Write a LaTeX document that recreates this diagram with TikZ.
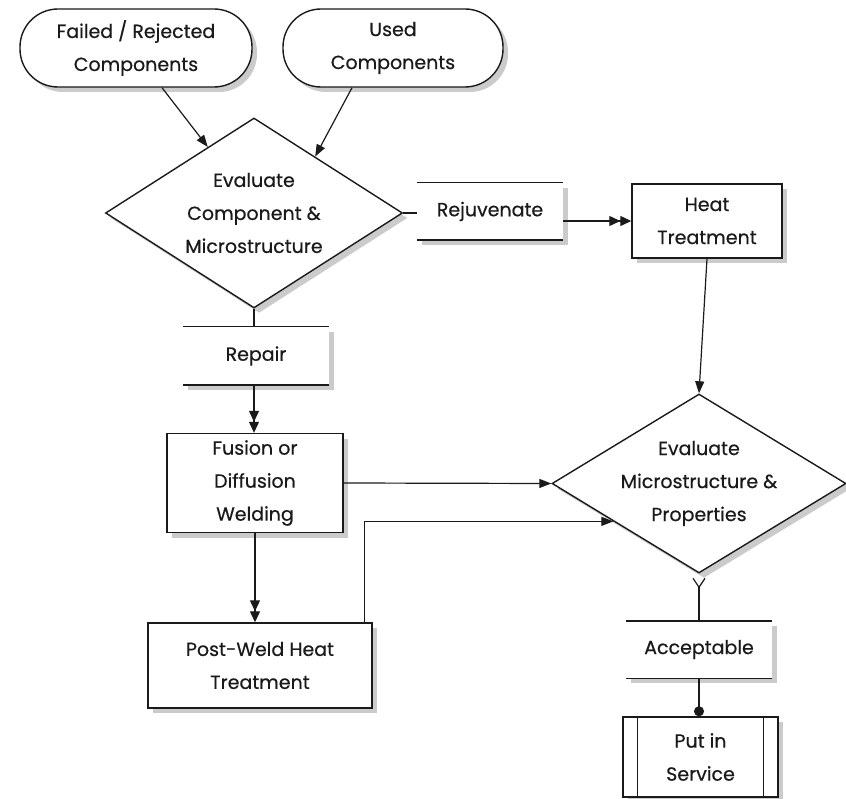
\documentclass[tikz,border=0pt]{standalone}
\usepackage{fontspec}
\setmainfont{Poppins}[FakeBold=0.5]
\usetikzlibrary{arrows.meta,calc,shapes.geometric,shadows}
\definecolor{flink} {HTML}{1A1A1A}
\definecolor{flshade}{HTML}{8C8C8C}
\tikzset{
  flshadow/.style={drop shadow={shadow xshift=5pt, shadow yshift=-5pt,
                   opacity=0.45, fill=flshade}},
  flbase/.style={fill=white, flshadow, inner sep=0pt, align=center,
                 font=\fontsize{19}{33}\selectfont, text=flink},
  flterm/.style={flbase, draw=flink, line width=1.4pt, rounded corners=38pt},
  flbox/.style={flbase, draw=flink, line width=1.4pt},
  fldecide/.style={flbase, draw=flink, line width=1.4pt, diamond,
                   inner xsep=-22pt, inner ysep=-12pt},
  flannot/.style={flbase, minimum width=146pt, minimum height=57pt,
                  append after command={
                    (\tikzlastnode.north west) edge[flrule] (\tikzlastnode.north east)
                    (\tikzlastnode.south west) edge[flrule] (\tikzlastnode.south east)}},
  flproc/.style={flbox,
                 append after command={
                   ([xshift=15pt]\tikzlastnode.north west) edge[flrule] ([xshift=15pt]\tikzlastnode.south west)
                   ([xshift=-15pt]\tikzlastnode.north east) edge[flrule] ([xshift=-15pt]\tikzlastnode.south east)}},
  flrule/.style={draw=flink, line width=1.4pt},
  fledge/.style={draw=flink, line width=1.2pt},
  flarrow/.style={fledge, -{Triangle[length=12pt,width=9pt]}},
  fldouble/.style={fledge, -{Triangle[length=11pt,width=10pt]Triangle[length=11pt,width=10pt]}},
}
\begin{document}
\begin{tikzpicture}[x=1pt,y=-1pt]
  \useasboundingbox (0,0) rectangle (846,799);
  % inputs
  \node[flterm, minimum width=232pt, minimum height=78pt] (failed) at (136,48)
    {Failed / Rejected\\Components};
  \node[flterm, minimum width=220pt, minimum height=78pt] (used) at (393,48)
    {Used\\Components};
  % first evaluation
  \node[fldecide, minimum width=297pt, minimum height=190pt] (evalcomp) at (254,213)
    {Evaluate\\Component \&\\Microstructure};
  \node[flannot] (rejuv) at (490,211.5) {Rejuvenate};
  \node[flbox, minimum width=150pt, minimum height=74pt] (heat) at (707,221)
    {Heat\\Treatment};
  \node[flannot, minimum height=58pt] (repair) at (256,356) {Repair};
  \node[flbox, minimum width=176pt, minimum height=99pt] (fusion) at (255,483)
    {Fusion or\\Diffusion\\Welding};
  \node[flbox, minimum width=224pt, minimum height=85pt] (postweld) at (260,665.5)
    {Post-Weld Heat\\Treatment};
  % second evaluation
  \node[fldecide, minimum width=294pt, minimum height=179pt] (evalmicro) at (699,483.5)
    {Evaluate\\Microstructure \&\\Properties};
  \node[flannot] (accept) at (699,649.5) {Acceptable};
  \node[flproc, minimum width=155pt, minimum height=80pt] (service) at (700.5,757)
    {Put in\\Service};

  \draw[flarrow] ($(failed.south)+(26,0)$) -- ($(evalcomp.west)!0.69!(evalcomp.north)$);
  \draw[flarrow] ($(used.south)+(-41,0)$) -- ($(evalcomp.north)!0.41!(evalcomp.east)$);
  \draw[fledge] (evalcomp.east) -- (evalcomp.east -| rejuv.west);
  \draw[fldouble] (rejuv.east |- heat.west) -- (heat.west);
  \draw[flarrow] (heat.south) -- (evalmicro.north);
  \draw[fledge] (evalcomp.south) -- (evalcomp.south |- repair.north);
  \draw[fldouble] (evalcomp.south |- repair.south) -- (evalcomp.south |- fusion.north);
  \draw[flarrow] (fusion.east) -- (evalmicro.west);
  \draw[fldouble] (fusion.south) -- (fusion.south |- postweld.north);
  \draw[flarrow] ($(postweld.north east)+(-8,0)$) |- ($(evalmicro.west)!0.42!(evalmicro.south)$);
  \draw[fledge, {Straight Barb[reversed,length=9pt,width=12pt,sep=4pt]}-]
    (evalmicro.south) -- (evalmicro.south |- accept.north);
  \draw[fledge, -{Circle[length=10pt]}] (evalmicro.south |- accept.south)
    -- (evalmicro.south |- service.north);
\end{tikzpicture}
\end{document}
